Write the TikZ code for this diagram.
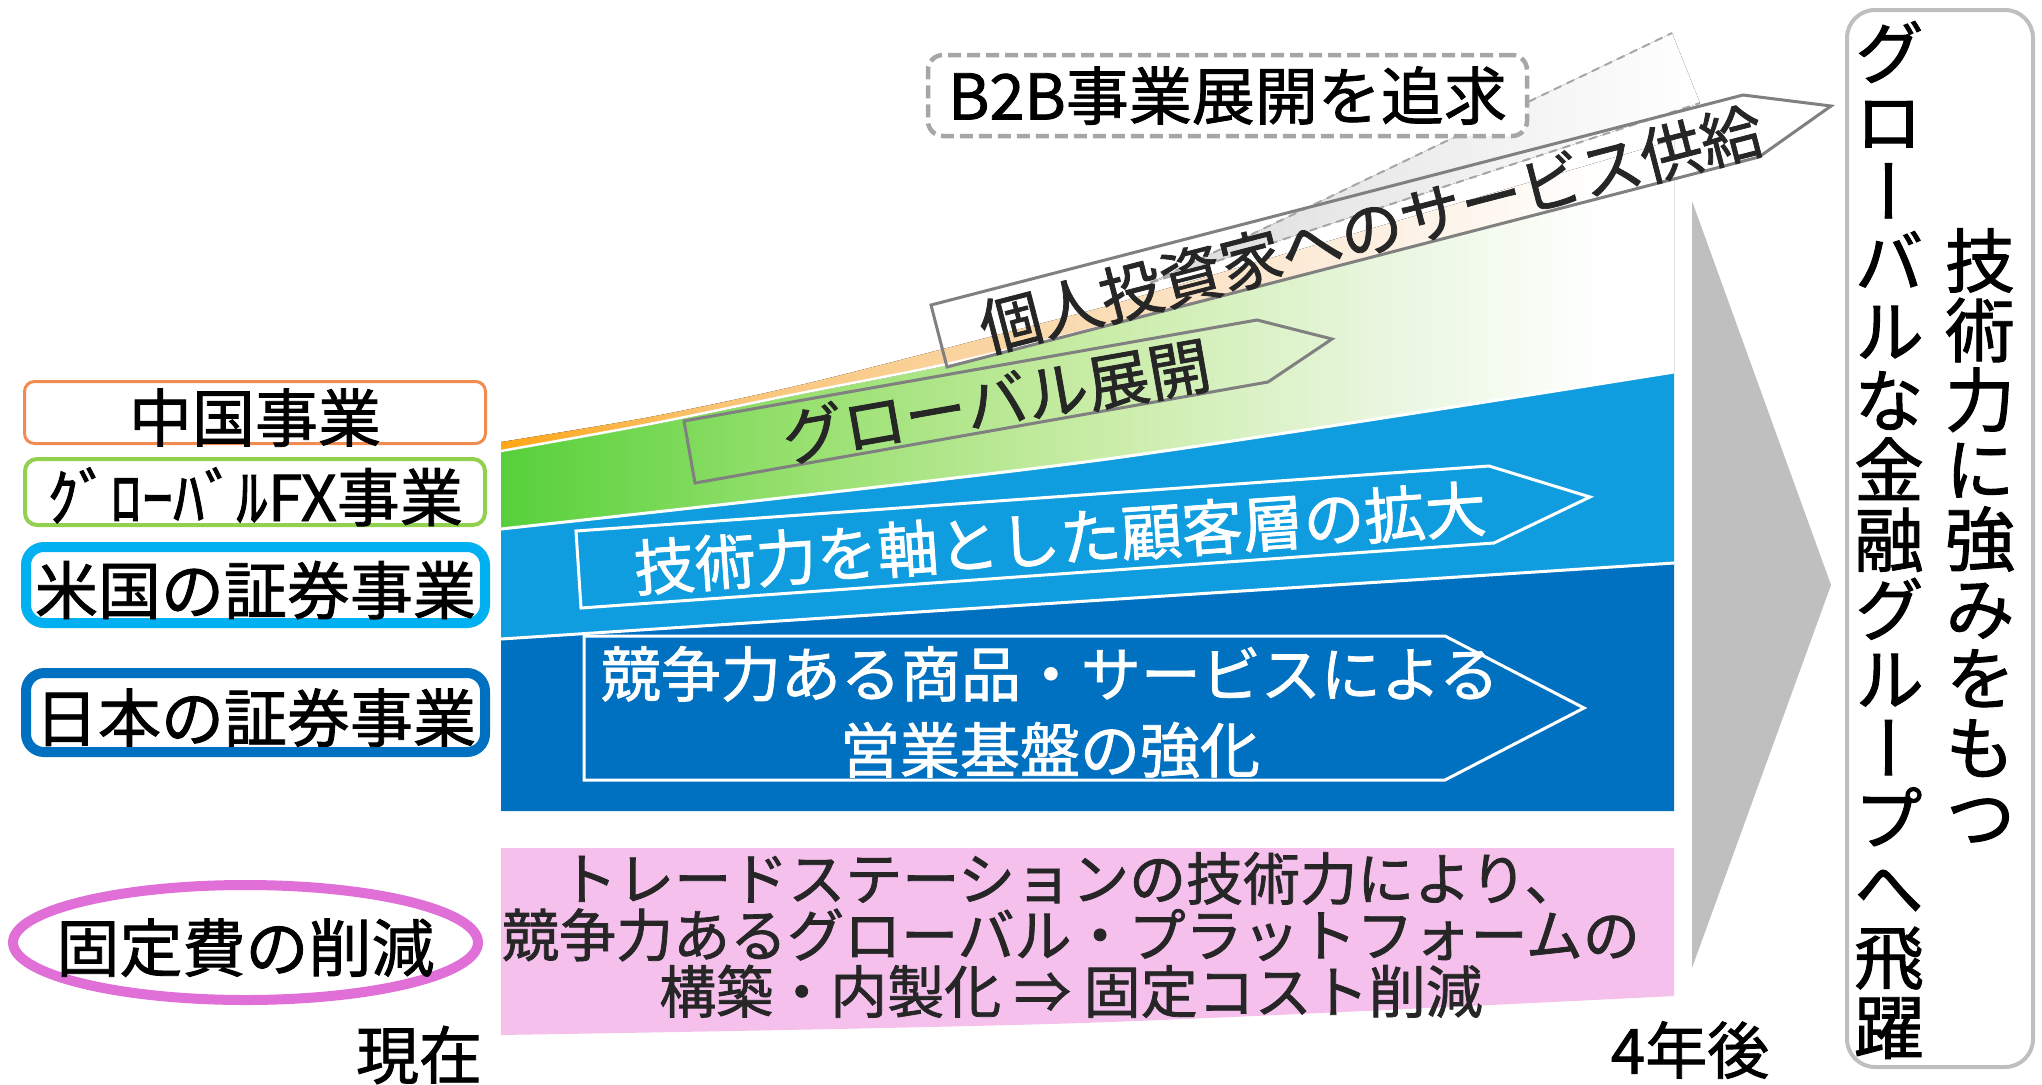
\documentclass[tikz,border=0pt]{standalone}
\usepackage{fontspec}
\setmainfont[FakeBold=1.3,AutoFakeBold=1.3]{Noto Sans CJK JP}
\newfontfamily\vjp[RawFeature=+vert,FakeBold=1.3,AutoFakeBold=1.3]{Noto Sans CJK JP}
\usetikzlibrary{shapes.geometric}
\definecolor{orgC}{RGB}{240,140,80}
\definecolor{grnC}{RGB}{146,208,80}
\definecolor{usC}{RGB}{0,176,240}
\definecolor{jpC}{RGB}{0,112,192}
\definecolor{lbC}{RGB}{16,157,224}
\definecolor{pnkC}{RGB}{246,192,236}
\definecolor{magC}{RGB}{224,112,216}
\definecolor{triC}{RGB}{191,191,191}
\definecolor{arrC}{RGB}{128,128,128}
\definecolor{dashC}{RGB}{166,166,166}
\definecolor{txtC}{RGB}{38,38,38}
\definecolor{gA}{RGB}{86,208,58}
\definecolor{gB}{RGB}{150,224,110}
\definecolor{gC}{RGB}{200,236,165}
\definecolor{gD}{RGB}{232,246,222}
\definecolor{oA}{RGB}{255,166,20}
\definecolor{oB}{RGB}{250,195,115}
\definecolor{oC}{RGB}{250,215,168}
\definecolor{oD}{RGB}{252,236,218}
\definecolor{bmA}{RGB}{220,220,220}
\pgfdeclarehorizontalshading{grnfade}{100bp}{color(0bp)=(gA); color(25bp)=(gA); color(37.5bp)=(gB); color(50bp)=(gC); color(62.5bp)=(gD); color(72bp)=(white); color(100bp)=(white)}
\pgfdeclarehorizontalshading{orgfade}{100bp}{color(0bp)=(oA); color(25bp)=(oA); color(34bp)=(oB); color(47bp)=(oC); color(60bp)=(oD); color(72bp)=(white); color(100bp)=(white)}
\pgfdeclarehorizontalshading{beamfade}{100bp}{color(0bp)=(bmA); color(25bp)=(bmA); color(75bp)=(white); color(100bp)=(white)}
\newcommand\fsz[2]{\fontsize{#1}{#2}\selectfont}
\begin{document}
\begin{tikzpicture}[x=1pt,y=-1pt,
  lblbox/.style={inner sep=0pt, fill=white, text height=60pt, text depth=2pt, font={\fsz{63}{63}\bfseries}, text=black},
  bandtxt/.style={inner sep=0pt, text=txtC},
  wtxt/.style={inner sep=0pt, text=white},
  grayarrow/.style={draw=arrC, line width=3pt, line join=miter},
  whitearrow/.style={draw=white, line width=3pt, line join=miter},
  sep/.style={draw=white, line width=3pt},
  beamline/.style={draw=dashC, line width=2pt, dash pattern=on 8pt off 6pt},
  vtxt/.style={align=center, inner sep=0pt, font={\vjp\fsz{70}{69.6}\bfseries}, text=black}]
\useasboundingbox (0,0) rectangle (2042,1084);

% ---- bands ----
\fill[pnkC] (501,848) -- (1674,848) -- plot[smooth] coordinates {(1674,996) (1082,1023) (501,1035)} -- cycle;
\fill[jpC] (501,639) -- (1674,563) -- (1674,811) -- (501,811) -- cycle;
\fill[lbC] plot[smooth] coordinates {(501,529) (1100,460) (1674,372)} -- (1674,563) -- (501,639) -- cycle;
\fill[shading=grnfade] plot[smooth] coordinates {(501,452) (650,425) (796,395) (947,365) (1100,327)} -- (1674,179) -- plot[smooth] coordinates {(1674,372) (1100,460) (501,529)} -- cycle;
\fill[shading=orgfade] plot[smooth] coordinates {(501,442) (650,417) (796,386) (947,348) (1100,308)} -- (1674,140) -- (1674,179) -- plot[smooth] coordinates {(1100,327) (947,365) (796,395) (650,425) (501,451)} -- cycle;
% separators
\draw[sep] (501,639) -- (1674,563);
\draw[sep] plot[smooth] coordinates {(501,529) (1100,460) (1674,372)};
\draw[sep, line width=2.5pt] plot[smooth] coordinates {(501,451) (650,424) (796,394) (947,364) (1100,327)};

% ---- B2B beam ----
\coordinate (apex) at (1150,283);
\coordinate (beamU) at (1672,33);
\coordinate (beamL) at (1700,103);
\fill[shading=beamfade] (apex) -- (beamU) -- (beamL) -- cycle;
\draw[beamline] (apex) -- (beamU);
\draw[beamline] (apex) -- (beamL);

% ---- arrows ----
\draw[grayarrow] (931,305) -- (1743,95) -- (1831,106) -- (1759,157) -- (947,367) -- cycle;
\draw[grayarrow] (684,421) -- (1257,320) -- (1332,339) -- (1268,382) -- (695,483) -- cycle;
\draw[whitearrow] (576,531) -- (1489,466) -- (1590,497) -- (1494,543) -- (581,608) -- cycle;
\draw[whitearrow] (584,636) -- (1445,636) -- (1584,708) -- (1445,780) -- (584,780) -- cycle;

% ---- B2B box ----
\node[draw=dashC, fill=white, line width=4.5pt, dash pattern=on 13pt off 6pt, rounded corners=15pt,
      minimum width=599pt, minimum height=81pt, inner sep=0pt, font={\fsz{63}{63}\bfseries}, text=black] (b2b) at (1227.5,95.5) {B2B事業展開を追求};

% ---- band texts ----
\node[bandtxt, rotate=14.5, font={\fsz{62}{62}\bfseries}] (retail) at (1371,229) {個人投資家へのサービス供給};
\node[bandtxt, rotate=10, font={\fsz{62}{62}\bfseries}] (global) at (996,401) {グローバル展開};
\node[wtxt, rotate=4.07, font={\fsz{61}{61}\bfseries}] (tech) at (1060,538) {技術力を軸とした顧客層の拡大};
\node[wtxt, align=center, font={\fsz{60}{76}\bfseries}] (compete) at (1050,712) {競争力ある商品・サービスによる\\営業基盤の強化};
\node[bandtxt, align=center, font={\fsz{57}{56.5}\bfseries}] (cost) at (1071,935) {トレードステーションの技術力により、\\競争力あるグローバル・プラットフォームの\\構築・内製化 ⇒ 固定コスト削減};

% ---- left labels ----
\node[lblbox, draw=orgC, line width=3pt, rounded corners=10pt, minimum width=461pt, minimum height=58pt] (china) at (255,412.5) {中国事業};
\node[lblbox, draw=grnC, line width=4pt, rounded corners=12pt, minimum width=460pt, minimum height=66pt] (fx) at (255,492) {ｸﾞﾛｰﾊﾞﾙFX事業};
\node[lblbox, draw=usC, line width=10pt, rounded corners=18pt, minimum width=459pt, minimum height=76pt] (us) at (255.5,585) {米国の証券事業};
\node[lblbox, draw=jpC, line width=10pt, rounded corners=18pt, minimum width=459pt, minimum height=79pt] (jp) at (255.5,712.5) {日本の証券事業};
\node[ellipse, draw=magC, fill=white, line width=10pt, minimum width=465pt, minimum height=115pt, inner sep=0pt] (fixed) at (245.5,942.5) {};
\node[lblbox, fill=none] (fixedtxt) at (fixed.center) {固定費の削減};

\node[inner sep=0pt, font={\fsz{63}{63}\bfseries}, text=black] (now) at (419,1055) {現在};
\node[inner sep=0pt, font={\fsz{62}{62}\bfseries}, text=black] (later) at (1690,1050) {4年後};

% ---- big gray arrow and goal box ----
\fill[triC] (1692,201) -- (1831,585) -- (1692,968) -- cycle;
\node[draw=triC, line width=4pt, rounded corners=28pt, minimum width=186pt, minimum height=1057pt, inner sep=0pt] (goal) at (1940,538.5) {};
\node[vtxt] (goalR) at (1980,536) {技\\術\\力\\に\\強\\み\\を\\も\\つ};
\node[vtxt] (goalL) at (1889,540) {グ\\ロ\\ー\\バ\\ル\\な\\金\\融\\グ\\ル\\ー\\プ\\へ\\飛\\躍};
\end{tikzpicture}
\end{document}
